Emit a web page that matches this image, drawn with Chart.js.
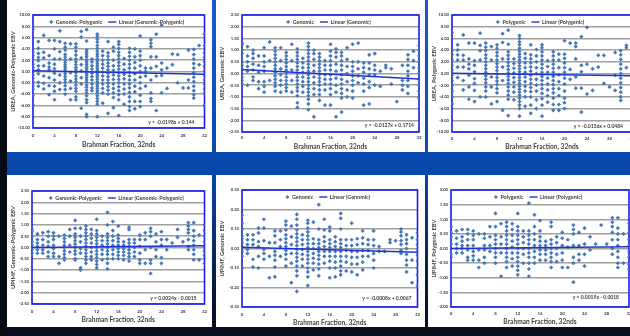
<!DOCTYPE html>
<html>
<head>
<meta charset="utf-8">
<script src="https://cdn.jsdelivr.net/npm/chart.js@4/dist/chart.umd.min.js"></script>
<style>
  html, body { margin: 0; padding: 0; }
  body {
    width: 630px; height: 336px; overflow: hidden; position: relative;
    background: linear-gradient(to bottom, #1c57d2 0px, #0b4ab2 150px, #0846a8 176px,
      #073a90 205px, #0a2658 255px, #0a1630 300px, #050c1a 336px);
  }
  #edge { position: absolute; left: 0; top: 0; width: 7px; height: 336px; background: #050a14; }
  canvas.panel { position: absolute; background: #ffffff; }
</style>
</head>
<body>
<div id="edge"></div>
<script>
// Brahman fraction (32nds) on the x axis
const brahmanFraction = [0, 1, 2, 3, 4, 5, 6, 7, 8, 9, 10, 11, 12, 13, 14, 15, 16,
  17, 18, 19, 20, 21, 22, 23, 24, 25, 26, 27, 28, 29, 30, 31, 32];

// EBVs per animal, grouped by Brahman fraction (index = fraction in 32nds)
const ureaGenPoly = [
  [7.5, 3.4, 2.8, 2.1, 1.3, 0.7, 0.2, -0.6, -1.2, -1.8, -2.5, -3.2, -4.3, -5.9],
  [5.3, 4.1, 3.2, 2.5, 1.9, 1.0, 0.3, -0.4, -1.9, -2.6],
  [6.4, 3.4, 2.4, 1.0, -0.8, -2.1, -3.1],
  [5.5, 2.8, 1.5, 0.8, 0.3, -1.1, -2.5, -4.1],
  [5.5, 4.0, 2.2, 1.3, 0.5, -0.3, -1.5, -2.6, -3.5, -5.0],
  [7.2, 5.3, 3.5, 2.2, -0.6, -2.0, -3.2],
  [5.0, 4.3, 3.8, 3.0, 2.5, 2.0, 1.6, 1.2, 0.8, 0.4, 0.0, -0.4, -0.9, -1.4, -1.9, -2.5, -3.2, -4.0],
  [4.9, 2.2, -0.2, -1.7, -3.0, -5.0],
  [4.9, 4.3, 3.6, 2.9, 2.2, 1.7, 1.2, 0.7, 0.3, -0.2, -0.8, -1.3, -1.8, -2.4, -3.0, -3.5, -4.5, -5.0],
  [7.1, 6.1, 2.4, 1.2, 0.1, -1.1, -2.2, -6.5],
  [7.4, 5.4, 3.8, 3.4, 3.0, 2.6, 2.1, 1.7, 1.3, 0.9, 0.5, 0.1, -0.3, -0.7, -1.1, -1.5, -1.9, -2.4, -2.8, -3.3, -3.8, -4.3, -5.0, -5.5, -7.6, -8.0],
  [2.2, 1.7, 1.0, 0.4, -0.3, -0.9, -1.5, -2.2, -2.9, -3.4],
  [6.6, 6.2, 5.7, 5.2, 4.6, 4.1, 3.6, 3.1, 2.7, 2.2, 1.8, 1.4, 1.0, 0.6, 0.2, -0.2, -0.6, -1.0, -1.4, -1.8, -2.2, -2.6, -3.0, -3.4, -3.8, -4.3, -4.8, -5.3, -5.8, -8.0],
  [3.6, 2.8, 2.0, 1.3, 0.6, -0.1, -0.8, -1.5, -2.2, -3.0, -3.8, -5.6],
  [5.3, 3.3, 2.7, 2.1, 1.5, 0.9, 0.3, -0.3, -0.9, -1.5, -2.1, -2.7, -3.3, -4.0, -7.4],
  [4.3, 3.6, 2.0, 1.0, 0.2, -0.6, -1.4, -2.2, -3.0, -3.8, -4.6, -6.4],
  [5.3, 4.8, 4.1, 3.4, 2.8, 2.2, 1.6, 1.0, 0.4, -0.2, -0.8, -1.4, -2.0, -2.7, -3.4, -4.1, -5.0, -7.8],
  [2.3, 1.3, 0.3, -0.5, -1.3, -2.2, -3.1, -4.0, -5.8],
  [4.1, 3.4, 2.7, 2.0, 1.3, 0.6, -0.1, -0.8, -1.5, -2.2, -2.9, -3.7, -4.5, -5.3, -6.2, -6.9],
  [4.0, 2.6, 1.6, 0.6, -0.4, -1.5, -2.6, -3.6, -5.3, -6.6],
  [6.3, 3.6, 2.8, 2.0, 1.0, 0.0, -1.0, -2.0, -3.0, -4.2, -5.3, -6.2],
  [0.6, 0.0, -0.8, -2.6],
  [5.6, 5.0, 4.4, 2.6, 0.6, -1.5, -3.8, -4.8, -5.3],
  [6.6, 2.6, 0.9, -0.8, -6.9],
  [8.2, 1.5, 0.3, -0.7, -3.8],
  [0.6, -3.0],
  [3.1, 1.2],
  [3.0, -2.0],
  [-2.9],
  [3.8, -1.5, -2.9],
  [3.9, 3.0, 2.2, 1.4, 0.6, -0.2, -1.0, -1.8, -2.6, -3.4, -4.1, -4.7],
  [4.6, 1.2],
  [6.6, 4.6, 3.3, 2.5, 1.7, 0.9, 0.1, -0.7, -1.5, -2.3, -3.1, -3.9, -6.0]
];

const ureaGenomic = [
  [1.3, 1.25, 1.0, 0.85, 0.5, 0.35, 0.15, -0.15, -0.3, -0.45, -1.5],
  [1.15, 0.75, 0.5, 0.3, 0.1, -0.5],
  [1.0, 0.85, 0.65, 0.4, 0.15, -0.15, -0.3],
  [0.75, 0.35, 0.05, -0.35, -0.65],
  [1.1, 0.75, 0.5, 0.3, 0.1, -0.35, -0.55, -0.8],
  [1.35, 0.55, -0.3],
  [1.1, 0.95, 0.8, 0.65, 0.5, 0.35, 0.2, 0.05, -0.1, -0.25, -0.4, -0.55, -0.75],
  [1.1, 0.55, 0.2, -0.05, -0.3, -0.5, -0.8],
  [0.9, 0.75, 0.6, 0.45, 0.3, 0.15, 0.0, -0.15, -0.3, -0.45, -0.6, -0.75],
  [1.25, 0.55, 0.15, -0.3, -0.8],
  [1.05, 0.9, 0.75, 0.6, 0.45, 0.3, 0.15, 0.0, -0.15, -0.3, -0.45, -0.6, -0.75, -0.95, -1.25, -1.45],
  [0.65, 0.45, 0.25, 0.05, -0.15, -0.35, -0.55, -0.8],
  [1.3, 1.15, 1.0, 0.85, 0.7, 0.55, 0.4, 0.25, 0.1, -0.05, -0.2, -0.35, -0.5, -0.65, -0.8, -0.95, -1.1, -1.3, -1.55],
  [1.0, 0.85, 0.6, 0.35, 0.1, -0.15, -0.4, -0.65, -0.9, -1.85],
  [0.85, 0.7, 0.55, 0.4, 0.25, 0.1, -0.05, -0.2, -0.35, -0.5, -0.7, -0.9, -1.15],
  [0.55, 0.35, 0.15, -0.05, -0.25, -0.45, -0.7, -1.35],
  [1.25, 0.95, 0.75, 0.55, 0.35, 0.15, -0.05, -0.25, -0.45, -0.65, -0.9, -1.35],
  [1.05, 0.9, 0.7, 0.4, 0.1, -0.2, -0.5, -0.8, -1.85],
  [0.9, 0.75, 0.55, 0.35, 0.15, -0.05, -0.25, -0.45, -0.65, -0.85, -1.05, -1.65],
  [1.1, 0.6, 0.3, 0.0, -0.35, -0.7, -1.0],
  [1.25, 0.5, 0.3, 0.1, -0.1, -0.3, -0.5, -0.75, -1.05],
  [1.3, 0.5, 0.2, -0.1, -0.4],
  [0.45, 0.25, 0.05, -0.2, -0.45, -0.75, -1.35],
  [0.8, 0.45, 0.2, -0.05, -0.35, -0.6, -1.3],
  [0.85, 0.35, 0.15, -0.05, -0.5],
  [0.1, -0.55],
  [0.35, 0.25],
  [0.2, -0.45],
  [-1.2],
  [0.35, -0.3, -0.5, -0.7],
  [0.8, 0.6, 0.35, 0.1, -0.1, -0.3, -0.55, -0.85],
  [0.95, 0.55, 0.25],
  [1.2, 1.0, 0.75, 0.5, 0.25, 0.0, -0.25, -0.5, -0.75, -1.05]
];

const ureaPolygenic = [
  [7.0, 3.9, 3.2, 2.3, 1.4, 0.6, -0.3, -1.2, -2.1, -3.0, -4.0, -5.2],
  [4.9, 4.0, 3.2, 2.3, 1.1, -0.7],
  [6.6, 3.1, 2.3, 1.1, -1.2, -2.8],
  [5.2, 2.5, 1.6, 0.8, -0.3, -2.3, -4.4],
  [5.2, 2.2, 1.4, 0.3, -0.9, -1.7, -2.9, -4.8],
  [6.9, 4.8, 3.9, 2.3, -4.0],
  [5.2, 4.5, 3.9, 3.2, 2.6, 2.0, 1.4, 0.8, 0.2, -0.4, -1.0, -1.6, -2.3, -3.0, -4.0],
  [4.6, 2.3, -0.6, -2.3, -5.2],
  [4.9, 4.3, 3.6, 3.0, 2.3, 1.7, 1.1, 0.5, -0.1, -0.7, -1.3, -1.9, -2.6, -3.3, -4.8],
  [6.8, 5.3, 2.5, 1.1, -1.2, -6.3],
  [7.4, 5.0, 3.7, 3.1, 2.5, 1.9, 1.3, 0.7, 0.1, -0.5, -1.1, -1.7, -2.3, -3.0, -3.7, -4.4, -7.2],
  [2.5, 1.7, 0.9, 0.1, -0.7, -1.5, -2.3, -3.2, -4.5],
  [6.5, 6.0, 5.4, 4.9, 4.3, 3.8, 3.3, 2.8, 2.3, 1.8, 1.3, 0.8, 0.3, -0.2, -0.7, -1.2, -1.7, -2.2, -2.7, -3.2, -3.7, -4.2, -4.8, -5.4, -6.0, -7.3],
  [3.4, 2.6, 1.8, 1.0, 0.2, -0.6, -1.4, -2.2, -3.0, -4.0, -5.6],
  [4.9, 3.2, 2.5, 1.8, 1.1, 0.4, -0.3, -1.0, -1.7, -2.4, -3.1, -4.0, -5.4, -6.8],
  [4.1, 3.0, 2.0, 1.0, 0.0, -1.0, -2.0, -3.0, -4.5, -6.0],
  [4.9, 4.4, 3.7, 3.0, 2.3, 1.6, 0.9, 0.2, -0.5, -1.2, -1.9, -2.6, -3.4, -4.3, -5.4, -7.3],
  [2.2, 1.2, 0.2, -0.8, -1.8, -2.8, -3.8, -4.9],
  [3.7, 3.0, 2.3, 1.6, 0.9, 0.2, -0.5, -1.2, -1.9, -2.6, -3.3, -4.2, -5.3, -6.3],
  [3.3, 2.3, 1.0, -0.2, -1.4, -2.6, -3.8, -5.3, -6.3],
  [5.6, 3.3, 2.6, 1.8, 1.0, 0.2, -0.8, -1.8, -3.0, -4.2, -5.0, -6.0],
  [5.2, 0.7, -1.0],
  [5.2, 4.6, 2.5, -0.6, -2.5],
  [6.3, 1.4, 0.3, -2.5, -6.6],
  [7.9, 1.6, -3.5],
  [0.8, -2.9],
  [3.1, 1.1],
  [3.1, -1.7],
  [-2.3],
  [3.6, -0.3, -2.9],
  [3.9, 3.2, 2.4, 1.6, 0.8, 0.0, -0.8, -1.6, -2.4, -3.2, -4.0, -4.6],
  [4.8, 4.4, 1.0],
  [4.2, 2.0, 0.5, -1.0, -2.5]
];

const upimfGenPoly = [
  [0.8, 0.7, 0.5, 0.25, 0.1, -0.1, -0.25],
  [0.6, 0.35, 0.2, 0.05, -0.1, -0.25],
  [0.65, 0.35, 0.1, -0.1, -0.25],
  [0.7, 0.5, 0.25, 0.05, -0.2, -0.4],
  [0.65, 0.5, 0.35, 0.1, -0.05, -0.25, -0.4],
  [0.5, -0.4, -0.7],
  [0.55, 0.4, 0.25, 0.1, 0.0, -0.15, -0.3, -0.45, -0.55],
  [0.8, 0.5, 0.1, -0.2],
  [1.2, 0.85, 0.6, 0.45, 0.3, 0.15, 0.0, -0.15, -0.3, -0.5, -0.55],
  [0.85, 0.5, 0.25, -0.05, -0.25, -0.9, -1.0],
  [0.95, 0.8, 0.65, 0.5, 0.35, 0.2, 0.05, -0.1, -0.25, -0.4, -0.55, -0.7],
  [0.8, 0.6, 0.4, 0.2, 0.0, -0.2, -0.4, -0.55],
  [1.25, 0.75, 0.6, 0.45, 0.3, 0.15, 0.0, -0.15, -0.3, -0.45, -0.6, -0.75, -0.9],
  [0.5, 0.3, 0.1, -0.1, -0.3, -0.55],
  [1.55, 1.0, 0.6, 0.45, 0.3, 0.15, 0.0, -0.15, -0.3, -0.5, -0.7, -0.95],
  [1.15, 0.75, 0.5, 0.3, 0.1, -0.1, -0.3, -0.5],
  [0.95, 0.55, 0.4, 0.25, 0.1, -0.05, -0.2, -0.35, -0.5],
  [0.25, 0.1, -0.05, -0.2, -0.35, -0.55],
  [0.9, 0.8, 0.35, 0.2, 0.05, -0.1, -0.25, -0.4, -0.6],
  [0.35, 0.2, 0.0, -0.2, -0.4],
  [0.55, 0.35, 0.05, -0.25, -0.55, -0.7],
  [0.65, 0.35, -0.1, -0.7],
  [0.85, 0.7, 0.5, 0.0, -0.55, -0.7, -1.15],
  [0.6, 0.25, -0.1, -0.4],
  [0.7, 0.35, 0.1, -0.45, -0.7],
  [0.35, -0.1],
  [0.2],
  [0.8, 0.45],
  [0.25],
  [1.1, 0.95, 0.8, 0.65, 0.35, 0.05, -0.1],
  [1.1, 0.75, 0.5, 0.3, 0.1, -0.1, -0.3, -0.55],
  [0.55, -0.55],
  [1.0, 0.75, 0.5, 0.25, 0.05, -0.15, -0.35, -0.7]
];

const upimfGenomic = [
  [0.17, 0.13, 0.10, 0.065, 0.05, 0.03, 0.01, -0.015, -0.04, -0.1],
  [0.07, 0.045, 0.02, -0.005, -0.025],
  [0.07, 0.045, 0.02, -0.055, -0.095],
  [0.105, 0.08, 0.035, 0.01, -0.04, -0.1],
  [0.15, 0.105, 0.04, -0.005, -0.025, -0.055],
  [0.03, -0.04, -0.15],
  [0.09, 0.065, 0.03, -0.015, -0.035, -0.06, -0.095, -0.145],
  [0.09, 0.045, 0.01, -0.04],
  [0.14, 0.12, 0.095, 0.07, 0.05, 0.03, 0.01, -0.01, -0.03, -0.055, -0.09],
  [0.115, 0.06, 0.02, -0.025, -0.075, -0.175],
  [0.175, 0.15, 0.12, 0.095, 0.075, 0.055, 0.035, 0.015, -0.005, -0.025, -0.045, -0.065, -0.09, -0.115, -0.14, -0.22],
  [0.07, 0.045, 0.02, -0.005, -0.03, -0.055, -0.09],
  [0.145, 0.13, 0.105, 0.085, 0.065, 0.045, 0.025, 0.005, -0.015, -0.035, -0.055, -0.075, -0.1, -0.12, -0.145, -0.19],
  [0.135, 0.05, 0.025, 0.0, -0.025, -0.05, -0.075, -0.11],
  [0.225, 0.1, 0.045, 0.025, 0.005, -0.015, -0.035, -0.055, -0.08, -0.105, -0.14],
  [0.15, 0.095, 0.06, 0.035, 0.01, -0.015, -0.04, -0.075],
  [0.11, 0.09, 0.045, 0.025, 0.005, -0.015, -0.04, -0.065, -0.1, -0.15],
  [0.06, 0.035, 0.01, -0.015, -0.04, -0.07, -0.1, -0.145],
  [0.18, 0.155, 0.1, 0.045, 0.025, 0.005, -0.015, -0.04, -0.065, -0.09, -0.115, -0.135],
  [0.045, 0.015, -0.01, -0.04, -0.07, -0.115],
  [0.13, 0.045, 0.015, -0.015, -0.045, -0.08, -0.12],
  [0.05, 0.02, -0.015, -0.045, -0.08, -0.135],
  [0.09, 0.055, 0.025, -0.01, -0.04, -0.07, -0.11],
  [0.045, 0.02, -0.01, -0.04],
  [0.09, 0.045, 0.015, -0.025, -0.06, -0.1],
  [0.01, -0.015],
  [-0.015],
  [0.045, 0.03],
  [0.04],
  [0.1, 0.085, 0.065, 0.04, 0.02, -0.01, -0.025],
  [0.07, 0.045, 0.025, 0.0, -0.03, -0.06, -0.085, -0.12],
  [0.055, -0.06, -0.175],
  [0.08, 0.045, 0.02, -0.005, -0.035, -0.065, -0.1, -0.135, -0.19]
];

const upimfPolygenic = [
  [0.75, 0.55, 0.4, 0.15, 0.0, -0.2, -0.3],
  [0.6, 0.35, 0.15, 0.0, -0.15],
  [0.65, 0.4, 0.25, 0.1, 0.0, -0.15],
  [0.65, 0.5, 0.3, 0.1, -0.05, -0.3, -0.4],
  [0.6, 0.45, 0.3, 0.1, -0.1, -0.25, -0.4],
  [0.5, -0.05, -0.4, -0.65],
  [0.5, 0.35, 0.1, -0.05, -0.3, -0.5],
  [0.75, 0.4, 0.1, -0.1],
  [1.2, 0.75, 0.45, 0.3, 0.15, 0.0, -0.15, -0.3, -0.5],
  [0.85, 0.4, 0.15, -0.15, -0.95],
  [0.9, 0.75, 0.6, 0.45, 0.3, 0.15, 0.0, -0.15, -0.3, -0.45, -0.65],
  [0.85, 0.65, 0.45, 0.25, 0.05, -0.15, -0.35, -0.6],
  [1.2, 0.75, 0.6, 0.45, 0.3, 0.15, 0.0, -0.15, -0.3, -0.45, -0.6, -0.75, -0.9],
  [0.6, 0.4, 0.2, 0.0, -0.2, -0.5],
  [1.55, 0.6, 0.45, 0.3, 0.15, 0.0, -0.15, -0.3, -0.5, -0.7, -0.95],
  [1.15, 0.75, 0.5, 0.3, 0.1, -0.1, -0.3, -0.5],
  [0.95, 0.6, 0.4, 0.25, 0.1, -0.05, -0.2, -0.4],
  [0.25, 0.1, -0.05, -0.2, -0.4],
  [0.9, 0.75, 0.3, 0.15, 0.0, -0.15, -0.3, -0.45, -0.65],
  [0.4, 0.2, 0.0, -0.2, -0.45],
  [0.55, 0.35, 0.1, -0.15, -0.4, -0.65],
  [0.3, 0.05, -0.65],
  [0.8, 0.65, 0.5, 0.1, -0.3, -0.5, -1.15],
  [0.55, 0.1, -0.2, -0.4],
  [0.7, 0.15, -0.2, -0.6],
  [0.4, -0.05],
  [0.15],
  [0.8],
  [0.15],
  [1.05, 0.9, 0.75, 0.55, 0.3, 0.0, -0.2],
  [1.05, 0.7, 0.5, 0.3, 0.1, -0.1, -0.3, -0.5, -0.65],
  [0.5, -0.5],
  [0.85, 0.55, 0.3, 0.1, -0.1, -0.3, -0.55, -0.7]
];

const seriesNames = ['Genomic-Polygenic', 'Genomic', 'Polygenic', 'Genomic-Polygenic', 'Genomic', 'Polygenic'];
const yAxisTitles = ['UREA, Genomic-Polygenic EBV', 'UREA, Genomic EBV', 'UREA, Polygenic EBV',
  'UPIMF, Genomic-Polygenic EBV', 'UPIMF, Genomic EBV', 'UPIMF, Polygenic EBV'];
const yMin = [-10, -2.5, -10, -2.5, -0.3, -2];
const yMax = [10, 2.5, 10, 2.5, 0.3, 2];
const yStep = [2, 0.5, 2, 0.5, 0.1, 0.5];
const trendSlope = [-0.0198, -0.0127, -0.0136, 0.0024, -0.0008, 0.0019];
const trendIntercept = [0.144, 0.1714, 0.0484, -0.0015, 0.0067, -0.0018];
const xAxisTitle = 'Brahman Fraction, 32nds';

const allSeries = [ureaGenPoly, ureaGenomic, ureaPolygenic, upimfGenPoly, upimfGenomic, upimfPolygenic];

// Panel geometry: canvas box and plot-area edges inside each canvas
const panels = [
  { left: 7,   top: 0,   w: 205, h: 152, l: 26, r: 200, t: 15, b: 128, tickPad: 5, titlePad: 3.6, eqDx: 10, eqDy: 6 },
  { left: 216, top: 0,   w: 209, h: 152, l: 26, r: 203, t: 15, b: 132, tickPad: 3, titlePad: 0.8, eqDx: 5,  eqDy: 7 },
  { left: 428, top: 0,   w: 215, h: 152, l: 24, r: 204, t: 15, b: 132, tickPad: 4, titlePad: 0.8, eqDx: 9,  eqDy: 6 },
  { left: 7,   top: 175, w: 205, h: 152, l: 25, r: 200, t: 16, b: 129, tickPad: 5, titlePad: 3.6, eqDx: 8,  eqDy: 6 },
  { left: 216, top: 175, w: 209, h: 152, l: 26, r: 203, t: 15, b: 132, tickPad: 5, titlePad: 0,   eqDx: 6,  eqDy: 9 },
  { left: 428, top: 175, w: 215, h: 152, l: 23, r: 201, t: 15, b: 132, tickPad: 4, titlePad: 0.8, eqDx: 10, eqDy: 10 }
];

const FONT = 'Lato, "Liberation Sans", "DejaVu Sans", sans-serif';
const TEXT = '#404040';
const POINT = '#4678b8';
const TREND = '#1f33d4';

function equationText(m, b) {
  return 'y = ' + m + 'x ' + (b < 0 ? '- ' + (-b) : '+ ' + b);
}

// Blue frame round the plot area
const plotFrame = {
  id: 'plotFrame',
  beforeDatasetsDraw(chart) {
    const { ctx, chartArea: a } = chart;
    ctx.save();
    ctx.strokeStyle = '#1a1af0';
    ctx.lineWidth = 1.6;
    ctx.strokeRect(a.left, a.top, a.right - a.left, a.bottom - a.top);
    ctx.restore();
  }
};

// Legend drawn inside the top of the plot area
const insideLegend = {
  id: 'insideLegend',
  afterDatasetsDraw(chart) {
    const { ctx, chartArea: a } = chart;
    const ds = chart.data.datasets;
    ctx.save();
    ctx.font = 'bold 5.4px ' + FONT;
    ctx.textBaseline = 'middle';
    ctx.fillStyle = TEXT;
    const w0 = ctx.measureText(ds[0].label).width;
    const w1 = ctx.measureText(ds[1].label).width;
    const icon0 = 4, icon1 = 8, gap = 2.5, between = 6;
    const total = icon0 + gap + w0 + between + icon1 + gap + w1;
    let x = (a.left + a.right) / 2 - total / 2 - 2;
    const y = a.top + 7;
    // diamond marker
    ctx.beginPath();
    ctx.moveTo(x + 2, y - 2); ctx.lineTo(x + 4, y); ctx.lineTo(x + 2, y + 2); ctx.lineTo(x, y);
    ctx.closePath();
    ctx.fillStyle = POINT; ctx.fill();
    x += icon0 + gap;
    ctx.fillStyle = TEXT;
    ctx.fillText(ds[0].label, x, y);
    x += w0 + between;
    ctx.beginPath();
    ctx.moveTo(x, y); ctx.lineTo(x + icon1, y);
    ctx.strokeStyle = TREND; ctx.lineWidth = 1.4; ctx.stroke();
    x += icon1 + gap;
    ctx.fillText(ds[1].label, x, y);
    ctx.restore();
  }
};

// Trendline equation in the lower right corner
const equationLabel = {
  id: 'equationLabel',
  afterDatasetsDraw(chart, args, opts) {
    const { ctx, chartArea: a } = chart;
    ctx.save();
    ctx.font = 'bold 5px ' + FONT;
    ctx.fillStyle = TEXT;
    ctx.textAlign = 'right';
    ctx.textBaseline = 'middle';
    ctx.fillText(opts.text, a.right - opts.dx, a.bottom - opts.dy);
    ctx.restore();
  }
};

allSeries.forEach((series, i) => {
  const p = panels[i];
  const canvas = document.createElement('canvas');
  canvas.className = 'panel';
  canvas.width = p.w; canvas.height = p.h;
  canvas.style.left = p.left + 'px';
  canvas.style.top = p.top + 'px';
  canvas.style.width = p.w + 'px';
  canvas.style.height = p.h + 'px';
  document.body.appendChild(canvas);

  const points = [];
  brahmanFraction.forEach((f, k) => {
    series[k].forEach(v => points.push({ x: f, y: v }));
  });
  const m = trendSlope[i], b = trendIntercept[i];
  const xLo = brahmanFraction[0], xHi = brahmanFraction[brahmanFraction.length - 1];
  const trend = [{ x: xLo, y: b + m * xLo }, { x: xHi, y: b + m * xHi }];

  new Chart(canvas, {
    type: 'scatter',
    data: {
      datasets: [
        {
          label: seriesNames[i],
          data: points,
          pointStyle: 'rectRot',
          pointRadius: 2.1,
          pointBorderWidth: 0,
          backgroundColor: POINT,
          borderColor: POINT,
          order: 1
        },
        {
          type: 'line',
          label: 'Linear (' + seriesNames[i] + ')',
          data: trend,
          borderColor: TREND,
          borderWidth: 1.4,
          pointRadius: 0,
          fill: false,
          order: 0
        }
      ]
    },
    options: {
      responsive: false,
      animation: false,
      devicePixelRatio: 1,
      events: [],
      layout: { padding: { left: 0, right: p.w - p.r, top: p.t, bottom: 0 } },
      scales: {
        x: {
          type: 'linear',
          min: 0, max: 32,
          afterFit(s) { s.height = p.h - p.b; },
          grid: { display: false, drawTicks: false },
          border: { display: false },
          ticks: {
            stepSize: 4, autoSkip: false, maxRotation: 0, padding: p.tickPad,
            color: TEXT, font: { family: FONT, size: 4.3, weight: 'bold' }
          },
          title: {
            display: true, text: xAxisTitle, color: TEXT,
            font: { family: FONT, size: 6.6, weight: 'bold' },
            padding: { top: 0, bottom: p.titlePad }
          }
        },
        y: {
          min: yMin[i], max: yMax[i],
          afterFit(s) { s.width = p.l; },
          grid: { color: '#a0a0a0', lineWidth: 1.5, drawTicks: false },
          border: { display: false },
          ticks: {
            stepSize: yStep[i], autoSkip: false, padding: 3,
            color: TEXT, font: { family: FONT, size: 4.2, weight: 'bold' },
            callback: v => (Math.abs(v) < 1e-9 ? 0 : v).toFixed(2)
          },
          title: {
            display: true, text: yAxisTitles[i], color: TEXT,
            font: { family: FONT, size: 5.8, weight: 'bold' },
            padding: { top: 2.5, bottom: 0 }
          }
        }
      },
      plugins: {
        legend: { display: false },
        tooltip: { enabled: false },
        equationLabel: { text: equationText(m, b), dx: p.eqDx, dy: p.eqDy }
      }
    },
    plugins: [plotFrame, insideLegend, equationLabel]
  });
});
</script>
</body>
</html>
